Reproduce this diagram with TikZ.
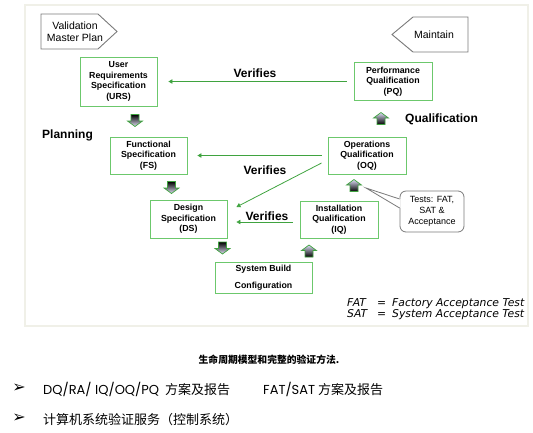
\documentclass[tikz,border=0pt]{standalone}
\usepackage{fontspec}
\setmainfont{Liberation Sans}
\newfontfamily\cjk{Noto Sans CJK SC}
\newfontfamily\dejavu{DejaVu Sans}
\newfontfamily\popp{Poppins}
\usetikzlibrary{calc,arrows.meta}
\definecolor{boxgreen}{HTML}{6CC86C}
\definecolor{linegreen}{HTML}{3FA33F}
\definecolor{framec}{HTML}{F0F0E8}
\definecolor{lav}{HTML}{C4C4EE}
\definecolor{pentgray}{HTML}{7A7A7A}
\begin{document}
\begin{tikzpicture}[x=1pt,y=-1pt,
  box/.style={draw=boxgreen, line width=0.9pt, align=center, inner sep=0pt,
    font=\fontsize{8.8}{10.6}\selectfont\bfseries},
  verif/.style={draw=linegreen, line width=0.8pt, -{Triangle[length=4pt,width=4.5pt]}},
  lbl/.style={font=\fontsize{12}{14}\selectfont\bfseries, inner sep=0pt},
  pent/.style={draw=pentgray, line width=0.9pt},
  pentlbl/.style={align=center, inner sep=0pt, font=\fontsize{10.5}{12}\selectfont},
  legend/.style={inner sep=0pt, anchor=base west, font=\dejavu\itshape\fontsize{10.8}{12}\selectfont},
  cjkline/.style={inner sep=0pt, anchor=base west, font=\cjk\fontsize{13}{15}\selectfont},
  latline/.style={inner sep=0pt, anchor=base west, font=\popp\fontsize{13}{15}\selectfont},
  bul/.style={inner sep=0pt, anchor=center, font=\dejavu\bfseries\fontsize{16}{18}\selectfont},
  blkdown/.pic={\draw[draw=linegreen, line width=0.7pt, top color=black, middle color=black!60!lav, bottom color=lav!50]
     (-4,-6) -- (4,-6) -- (4,0.5) -- (7.5,0.5) -- (0,6) -- (-7.5,0.5) -- (-4,0.5) -- cycle;},
  blkup/.pic={\draw[draw=linegreen, line width=0.7pt, top color=lav!60, middle color=black!50!lav, bottom color=black]
     (-4,6) -- (4,6) -- (4,-0.5) -- (7.5,-0.5) -- (0,-6) -- (-7.5,-0.5) -- (-4,-0.5) -- cycle;}
]
\useasboundingbox (0,0) rectangle (533,432);
% frame
\draw[framec, line width=1.1pt] (25,5) rectangle (528,326);

% pentagons
\draw[pent] (41,14) -- (98,14) -- (117,31.5) -- (98,49) -- (41,49) -- cycle;
\node[pentlbl] (vmp) at (75,32) {Validation\\Master Plan};
\draw[pent] (468,17) -- (413,17) -- (392,34.5) -- (413,52) -- (468,52) -- cycle;
\node[pentlbl] (maint) at (434,34.5) {Maintain};

% boxes
\node[box, minimum width=77pt, minimum height=49pt] (URS) at (118.5,81.5) {User\\Requirements\\Specification\\(URS)};
\node[box, minimum width=78pt, minimum height=38pt] (PQ) at (393,81.5) {Performance\\Qualification\\(PQ)};
\node[box, minimum width=77pt, minimum height=37pt] (FS) at (148.5,155.5) {Functional\\Specification\\(FS)};
\node[box, minimum width=78pt, minimum height=37pt] (OQ) at (367,155.5) {Operations\\Qualification\\(OQ)};
\node[box, minimum width=77pt, minimum height=38pt] (DS) at (188.5,219) {Design\\Specification\\(DS)};
\node[box, minimum width=78pt, minimum height=37pt] (IQ) at (339,219.5) {Installation\\Qualification\\(IQ)};
\node[box, minimum width=97pt, minimum height=31pt, font=\fontsize{8.8}{17}\selectfont\bfseries] (SB) at (263.5,277.5) {System Build\\Configuration};

% verifies connectors
\draw[verif, shorten <=7pt, shorten >=11pt] (PQ.west) -- (URS.east);
\draw[verif, shorten <=6pt, shorten >=10pt] (OQ.west) -- (FS.east);
\draw[verif] ($(OQ.west)+(-6,7.5)$) -- ($(DS.east)+(9,-12)$);
\draw[verif] ($(IQ.west)+(-7,2.5)$) -- ($(DS.east)+(9,3)$);

% labels
\node[lbl] (v1) at (255,73) {Verifies};
\node[lbl] (v2) at (265,170) {Verifies};
\node[lbl] (v3) at (267,216) {Verifies};
\node[lbl] (plan) at (67.5,135) {Planning};
\node[lbl] (qual) at (441.5,119) {Qualification};

% block arrows
\pic at (135,120.5) {blkdown};
\pic at (171.5,187.5) {blkdown};
\pic at (222.5,248) {blkdown};
\pic at (309,251) {blkup};
\pic at (354,185.5) {blkup};
\pic at (381,118.5) {blkup};

% callout
\node[draw=pentgray, line width=0.8pt, rounded corners=6pt, minimum width=64pt, minimum height=41pt,
      align=center, inner sep=0pt, font=\fontsize{9}{11}\selectfont] (tests) at (432,211.5) {Tests: FAT,\\SAT \&\\Acceptance};
\coordinate (tip) at (366,188);
\fill[white] ($(tests.west)+(1,-12.5)$) -- (tip) -- ($(tests.west)+(1,-3.5)$) -- cycle;
\draw[pentgray, line width=0.8pt] ($(tests.west)+(0,-12.5)$) -- (tip) -- ($(tests.west)+(0,-3.5)$);

% legend
\node[legend] (fat1) at (347,306) {FAT};
\node[legend] (eq1) at (377,306) {=};
\node[legend] (fat2) at (392,306) {Factory Acceptance Test};
\node[legend] (sat1) at (347,317) {SAT};
\node[legend] (eq2) at (377,317) {=};
\node[legend] (sat2) at (392,317) {System Acceptance Test};

% caption and bullets
\node[inner sep=0pt, font=\cjk\bfseries\fontsize{9.8}{11}\selectfont] (cap) at (269,360) {生命周期模型和完整的验证方法.};
\node[bul] (b1) at (19,388.5) {➢};
\node[latline] (r1a) at (43,394) {DQ/RA/ IQ/OQ/PQ};
\node[cjkline] (r1b) at (165,394) {方案及报告};
\node[latline] (r1c) at (263,394) {FAT/SAT};
\node[cjkline] (r1d) at (318,394) {方案及报告};
\node[bul] (b2) at (19,418.5) {➢};
\node[cjkline] (r2) at (43,424) {计算机系统验证服务（控制系统）};
\end{tikzpicture}
\end{document}
